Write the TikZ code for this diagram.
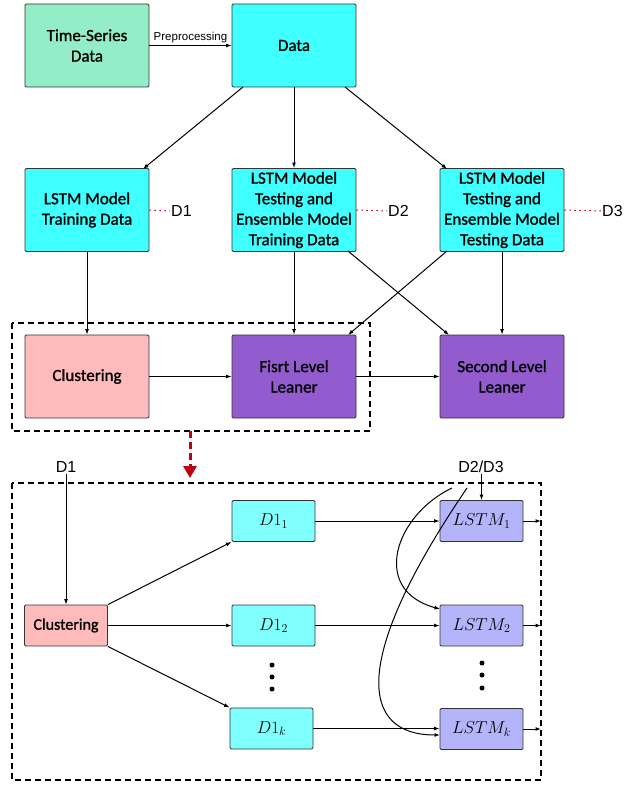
\documentclass[tikz,border=0pt]{standalone}
\usepackage{fontspec}
\setmainfont[FakeBold=1.2]{Carlito}
\newfontfamily\lblfont{Liberation Sans}
\usetikzlibrary{arrows.meta}
\definecolor{tsgreen}{RGB}{147,238,199}
\definecolor{datacyan}{RGB}{64,255,255}
\definecolor{lightcyan}{RGB}{128,255,255}
\definecolor{clpink}{RGB}{255,187,187}
\definecolor{lvpurple}{RGB}{147,92,206}
\definecolor{lavend}{RGB}{180,180,250}
\definecolor{darkred}{RGB}{190,0,20}
\tikzset{
  bigbox/.style={draw=black!80, line width=0.9pt, rounded corners=1.2pt, minimum width=124pt, minimum height=83pt, align=center, font=\fontsize{17}{20.5}\selectfont, inner sep=1pt},
  smallbox/.style={draw=black!80, line width=0.9pt, rounded corners=1.2pt, minimum width=83pt, minimum height=41pt, align=center, inner sep=1pt},
  arr/.style={line width=1pt, -{Latex[length=5.5pt,width=4pt]}},
  lbl/.style={font=\lblfont\fontsize{16}{18}\selectfont, inner sep=1pt},
  dotlink/.style={darkred, line width=1pt, dash pattern=on 1.5pt off 3.5pt},
  dbox/.style={line width=1.2pt, dash pattern=on 6pt off 4pt},
  dotmark/.style={circle, fill=black, inner sep=0pt, minimum size=5pt}
}
\begin{document}
\begin{tikzpicture}[x=1pt,y=-1pt]
\useasboundingbox (0,0) rectangle (624,786);
% top row
\node[bigbox, fill=tsgreen] (ts) at (87,45.5) {Time-Series\\Data};
\node[bigbox, fill=datacyan] (data) at (294,45.5) {Data};
\draw[arr] (ts.east) -- node[above=1pt, font=\lblfont\fontsize{11.5}{13}\selectfont, inner sep=1pt] {Preprocessing} (data.east -| data.west);
% second row
\node[bigbox, fill=datacyan] (b1) at (87,210) {LSTM Model\\Training Data};
\node[bigbox, fill=datacyan] (b2) at (294,210) {LSTM Model\\Testing and\\Ensemble Model\\Training Data};
\node[bigbox, fill=datacyan] (b3) at (502,210) {LSTM Model\\Testing and\\Ensemble Model\\Testing Data};
\node[lbl, anchor=west] (l1) at (170,211) {D1};
\node[lbl, anchor=west] (l2) at (387,211) {D2};
\node[lbl, anchor=west] (l3) at (601,211) {D3};
\draw[dotlink] (b1.east) -- (l1.west);
\draw[dotlink] (b2.east) -- (l2.west);
\draw[dotlink] (b3.east) -- (l3.west);
\coordinate (dA) at (243,87);
\coordinate (dB) at (345,87);
\coordinate (b1t) at (143,169);
\coordinate (b3t) at (447,169);
\draw[arr] (dA) -- (b1t);
\draw[arr] (data.south) -- (b2.north);
\draw[arr] (dB) -- (b3t);
% third row
\node[bigbox, fill=clpink] (cl) at (87,376.5) {Clustering};
\node[bigbox, fill=lvpurple] (fl) at (294,376.5) {Fisrt Level\\Leaner};
\node[bigbox, fill=lvpurple] (sl) at (502,376.5) {Second Level\\Leaner};
\draw[arr] (b1.south) -- (cl.north);
\draw[arr] (b2.south) -- (fl.north);
\draw[arr] (b3.south) -- (sl.north);
\coordinate (b3bl) at (447,251);
\coordinate (b2br) at (348,251);
\coordinate (flt) at (348,335);
\coordinate (slt) at (449,335);
\draw[arr] (b3bl) -- (flt);
\draw[arr] (b2br) -- (slt);
\draw[arr] (cl.east) -- (fl.west);
\draw[arr] (fl.east) -- (sl.west);
\draw[dbox] (12,323) rectangle (370,431);
\coordinate (rs) at (190,431);
\coordinate (re) at (190,478);
\draw[darkred, line width=3pt, dash pattern=on 7pt off 4pt, -{Triangle[length=12pt,width=13pt]}] (rs) -- (re);
% bottom panel
\draw[dbox] (12,483) rectangle (541,780);
\node[lbl] (bd1) at (66,467) {D1};
\node[lbl] (bd23) at (481,467) {D2/D3};
\node[smallbox, fill=clpink, font=\fontsize{16}{18}\selectfont] (c2) at (66,625.5) {Clustering};
\node[smallbox, fill=lightcyan] (d11) at (273.5,521) {\fontsize{17}{19}\selectfont$D1_1$};
\node[smallbox, fill=lightcyan] (d12) at (273.5,625.5) {\fontsize{17}{19}\selectfont$D1_2$};
\node[smallbox, fill=lightcyan] (d1k) at (271.5,728.5) {\fontsize{17}{19}\selectfont$D1_k$};
\node[smallbox, fill=lavend] (m1) at (481.5,521) {\fontsize{17}{19}\selectfont$LSTM_1$};
\node[smallbox, fill=lavend] (m2) at (481.5,625.5) {\fontsize{17}{19}\selectfont$LSTM_2$};
\node[smallbox, fill=lavend] (mk) at (481.5,729) {\fontsize{17}{19}\selectfont$LSTM_k$};
\node[dotmark] (p1) at (272,665) {};
\node[dotmark] (p2) at (272,677) {};
\node[dotmark] (p3) at (272,689) {};
\node[dotmark] (q1) at (482,663) {};
\node[dotmark] (q2) at (482,675) {};
\node[dotmark] (q3) at (482,688) {};
\draw[arr] (bd1.south) -- (c2.north);
\draw[arr] (c2.north east) -- (d11.south west);
\draw[arr] (c2.east) -- (d12.west);
\draw[arr] (c2.south east) -- (d1k.north west);
\draw[arr] (d11.east) -- (m1.west);
\draw[arr] (d12.east) -- (m2.west);
\draw[arr] (d1k.east) -- (d1k.east -| mk.west);
\coordinate (o1) at (541,521);
\coordinate (o2) at (541,625.5);
\coordinate (ok) at (541,729);
\draw[arr] (m1.east) -- (o1);
\draw[arr] (m2.east) -- (o2);
\draw[arr] (mk.east) -- (ok);
\draw[arr] (bd23.south -| m1.north) -- (m1.north);
\coordinate (cs1) at (452,488);
\coordinate (cs2) at (467,488);
\coordinate (m2in) at (440,609);
\coordinate (mkin2) at (440,735);
\draw[arr] (cs1) .. controls (395,515) and (370,590) .. (m2in);
\draw[arr] (cs2) .. controls (350,660) and (360,735) .. (mkin2);
\end{tikzpicture}
\end{document}
